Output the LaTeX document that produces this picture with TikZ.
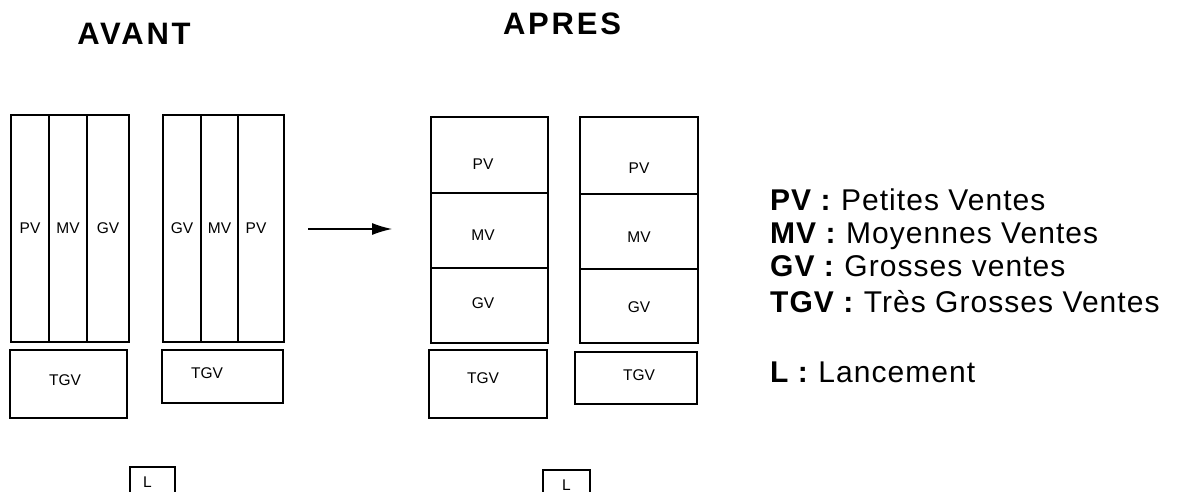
\documentclass[tikz,border=0pt]{standalone}
\usepackage{fontspec}
\setmainfont{Liberation Sans}
\newfontfamily\legfont[LetterSpace=3.5]{Liberation Sans}
\newfontfamily\titlefont[LetterSpace=9]{Liberation Sans}
\usetikzlibrary{arrows.meta}
\begin{document}
\begin{tikzpicture}[x=1pt,y=-1pt,
  cell/.style={draw,line width=1.2pt,inner sep=0pt,font=\fontsize{15.5}{18}\selectfont},
  lab/.style={font=\fontsize{15.5}{18}\selectfont,inner sep=0pt},
  leg/.style={anchor=base west,inner sep=0pt,font=\legfont\fontsize{30}{36}\selectfont},
  ttl/.style={anchor=base,inner sep=0pt,font=\titlefont\bfseries\fontsize{31}{36}\selectfont},
  conn/.style={line width=1.2pt,-{Latex[length=20pt,width=12pt]}}]
\useasboundingbox (0,0) rectangle (1182,492);
% titles
\node[ttl] (avant) at (134,45) {AVANT};
\node[ttl] (apres) at (562,35) {APRES};
% AVANT block 1
\node[cell,minimum width=38,minimum height=227] (a1) at (30,228.5) {PV};
\node[cell,minimum width=38,minimum height=227] (a2) at (68,228.5) {MV};
\node[cell,minimum width=42,minimum height=227] (a3) at (108,228.5) {GV};
\node[cell,minimum width=117,minimum height=68,label={[lab,xshift=-3.5pt,yshift=4pt]center:TGV}] (t1) at (68.5,384) {};
% AVANT block 2
\node[cell,minimum width=38,minimum height=227] (b1) at (182,228.5) {GV};
\node[cell,minimum width=37,minimum height=227] (b2) at (219.5,228.5) {MV};
\node[cell,minimum width=46,minimum height=227,label={[lab,xshift=-5pt]center:PV}] (b3) at (261,228.5) {};
\node[cell,minimum width=121,minimum height=53,label={[lab,xshift=-15.5pt,yshift=3.5pt]center:TGV}] (t2) at (222.5,376.5) {};
% arrow
\coordinate (arS) at (308,229);
\coordinate (arE) at (392,229);
\draw[conn] (arS) -- (arE);
% APRES block 3
\node[cell,minimum width=117,minimum height=76,label={[lab,xshift=-6.5pt,yshift=-9pt]center:PV}] (c1) at (489.5,155) {};
\node[cell,minimum width=117,minimum height=75,label={[lab,xshift=-6.5pt,yshift=-4.5pt]center:MV}] (c2) at (489.5,230.5) {};
\node[cell,minimum width=117,minimum height=75,label={[lab,xshift=-6.5pt,yshift=2.5pt]center:GV}] (c3) at (489.5,305.5) {};
\node[cell,minimum width=118,minimum height=68,label={[lab,xshift=-5pt,yshift=6pt]center:TGV}] (t3) at (488,384) {};
% APRES block 4
\node[cell,minimum width=118,minimum height=77,label={[lab,yshift=-12.5pt]center:PV}] (d1) at (639,155.5) {};
\node[cell,minimum width=118,minimum height=75,label={[lab,yshift=-5.5pt]center:MV}] (d2) at (639,231.5) {};
\node[cell,minimum width=118,minimum height=74,label={[lab,yshift=-1pt]center:GV}] (d3) at (639,306) {};
\node[cell,minimum width=122,minimum height=52,label={[lab,xshift=3pt,yshift=3pt]center:TGV}] (t4) at (636,378) {};
% L boxes
\node[cell,minimum width=45,minimum height=40,label={[lab,xshift=-5pt,yshift=4.5pt]center:L}] (L1) at (152.5,487) {};
\node[cell,minimum width=47,minimum height=40,label={[lab,yshift=4.5pt]center:L}] (L2) at (566.5,490) {};
% legend
\node[leg] (g1) at (770,210) {\textbf{PV :} Petites Ventes};
\node[leg] (g2) at (770,243) {\textbf{MV :} Moyennes Ventes};
\node[leg] (g3) at (770,276) {\textbf{GV :} Grosses ventes};
\node[leg] (g4) at (770,312) {\textbf{TGV :} Très Grosses Ventes};
\node[leg] (g5) at (770,382) {\textbf{L :} Lancement};
\end{tikzpicture}
\end{document}
